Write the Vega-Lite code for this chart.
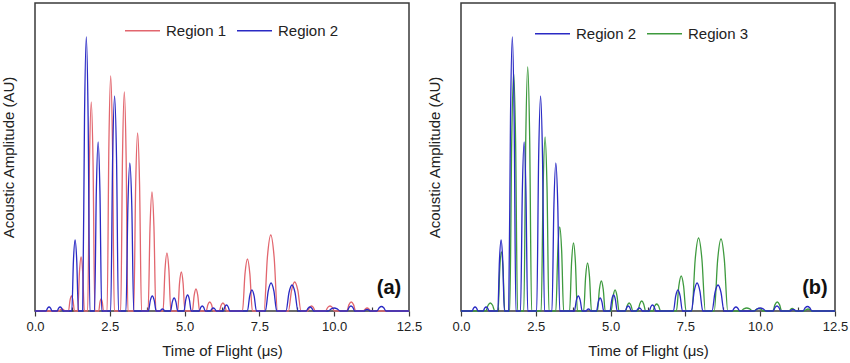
{
  "$schema": "https://vega.github.io/schema/vega-lite/v6.json",
  "padding": {"left": 0, "top": 2, "right": 0, "bottom": 0},
  "spacing": 3,
  "config": {
    "font": "Liberation Sans",
    "view": {"stroke": "#3a3a3a", "strokeWidth": 1.5},
    "axis": {"grid": false, "domain": false, "labelColor": "#222", "titleColor": "#222", "labelFont": "Liberation Sans", "titleFont": "Liberation Sans"}
  },
  "datasets": {
    "r1": [
      {"t":0,"a":0},
      {"t":0.8,"a":0},{"t":0.85,"a":1.4},{"t":0.9,"a":2},{"t":0.95,"a":1.4},{"t":1.0,"a":0},
      {"t":1.12,"a":0},{"t":1.17,"a":10.7},{"t":1.22,"a":15},{"t":1.27,"a":10.7},{"t":1.32,"a":0},
      {"t":1.43,"a":0},{"t":1.485,"a":38.3},{"t":1.54,"a":54},{"t":1.595,"a":38.3},{"t":1.65,"a":0},
      {"t":1.76,"a":0},{"t":1.82,"a":148.4},{"t":1.88,"a":209},{"t":1.94,"a":148.4},{"t":2.0,"a":0},
      {"t":2.13,"a":0},{"t":2.17,"a":8.5},{"t":2.21,"a":12},{"t":2.25,"a":8.5},{"t":2.29,"a":0},
      {"t":2.41,"a":0},{"t":2.47,"a":166.9},{"t":2.53,"a":235},{"t":2.59,"a":166.9},{"t":2.65,"a":0},
      {"t":2.865,"a":0},{"t":2.925,"a":155.5},{"t":2.985,"a":219},{"t":3.045,"a":155.5},{"t":3.105,"a":0},
      {"t":3.3,"a":0},{"t":3.365,"a":126.4},{"t":3.43,"a":178},{"t":3.495,"a":126.4},{"t":3.56,"a":0},
      {"t":3.78,"a":0},{"t":3.845,"a":84.5},{"t":3.91,"a":119},{"t":3.975,"a":84.5},{"t":4.04,"a":0},
      {"t":4.28,"a":0},{"t":4.345,"a":41.2},{"t":4.41,"a":58},{"t":4.475,"a":41.2},{"t":4.54,"a":0},
      {"t":4.77,"a":0},{"t":4.83,"a":27.7},{"t":4.89,"a":39},{"t":4.95,"a":27.7},{"t":5.01,"a":0},
      {"t":5.26,"a":0},{"t":5.32,"a":15.6},{"t":5.38,"a":22},{"t":5.44,"a":15.6},{"t":5.5,"a":0},
      {"t":5.72,"a":0},{"t":5.78,"a":6.4},{"t":5.84,"a":9},{"t":5.9,"a":6.4},{"t":5.96,"a":0},
      {"t":6.16,"a":0},{"t":6.22,"a":5.7},{"t":6.28,"a":8},{"t":6.34,"a":5.7},{"t":6.4,"a":0},
      {"t":6.935,"a":0},{"t":7.018,"a":36.9},{"t":7.1,"a":52},{"t":7.182,"a":36.9},{"t":7.265,"a":0},
      {"t":7.655,"a":0},{"t":7.768,"a":54},{"t":7.88,"a":76},{"t":7.992,"a":54},{"t":8.105,"a":0},
      {"t":8.47,"a":0},{"t":8.575,"a":20.6},{"t":8.68,"a":29},{"t":8.785,"a":20.6},{"t":8.89,"a":0},
      {"t":9.115,"a":0},{"t":9.178,"a":3.6},{"t":9.24,"a":5},{"t":9.302,"a":3.6},{"t":9.365,"a":0},
      {"t":9.71,"a":0},{"t":9.785,"a":3.6},{"t":9.86,"a":5},{"t":9.935,"a":3.6},{"t":10.01,"a":0},
      {"t":10.42,"a":0},{"t":10.495,"a":6.4},{"t":10.57,"a":9},{"t":10.645,"a":6.4},{"t":10.72,"a":0},
      {"t":10.975,"a":0},{"t":11.038,"a":2.1},{"t":11.1,"a":3},{"t":11.162,"a":2.1},{"t":11.225,"a":0},
      {"t":12.5,"a":0}
    ],
    "r2": [
      {"t":0,"a":0},
      {"t":0.37,"a":0},{"t":0.42,"a":2.8},{"t":0.47,"a":4},{"t":0.52,"a":2.8},{"t":0.57,"a":0},
      {"t":0.74,"a":0},{"t":0.79,"a":2.8},{"t":0.84,"a":4},{"t":0.89,"a":2.8},{"t":0.94,"a":0},
      {"t":1.23,"a":0},{"t":1.285,"a":50.4},{"t":1.34,"a":71},{"t":1.395,"a":50.4},{"t":1.45,"a":0},
      {"t":1.595,"a":0},{"t":1.655,"a":194.5},{"t":1.715,"a":274},{"t":1.775,"a":194.5},{"t":1.835,"a":0},
      {"t":1.99,"a":0},{"t":2.05,"a":120},{"t":2.11,"a":169},{"t":2.17,"a":120},{"t":2.23,"a":0},
      {"t":2.53,"a":0},{"t":2.595,"a":152.7},{"t":2.66,"a":215},{"t":2.725,"a":152.7},{"t":2.79,"a":0},
      {"t":3.04,"a":0},{"t":3.105,"a":105.1},{"t":3.17,"a":148},{"t":3.235,"a":105.1},{"t":3.3,"a":0},
      {"t":3.79,"a":0},{"t":3.855,"a":10.7},{"t":3.92,"a":15},{"t":3.985,"a":10.7},{"t":4.05,"a":0},
      {"t":4.185,"a":0},{"t":4.222,"a":1.4},{"t":4.26,"a":2},{"t":4.298,"a":1.4},{"t":4.335,"a":0},
      {"t":4.53,"a":0},{"t":4.59,"a":9.2},{"t":4.65,"a":13},{"t":4.71,"a":9.2},{"t":4.77,"a":0},
      {"t":4.98,"a":0},{"t":5.04,"a":11.4},{"t":5.1,"a":16},{"t":5.16,"a":11.4},{"t":5.22,"a":0},
      {"t":5.49,"a":0},{"t":5.54,"a":3.6},{"t":5.59,"a":5},{"t":5.64,"a":3.6},{"t":5.69,"a":0},
      {"t":5.86,"a":0},{"t":5.91,"a":2.1},{"t":5.96,"a":3},{"t":6.01,"a":2.1},{"t":6.06,"a":0},
      {"t":6.29,"a":0},{"t":6.345,"a":4.3},{"t":6.4,"a":6},{"t":6.455,"a":4.3},{"t":6.51,"a":0},
      {"t":7.1,"a":0},{"t":7.175,"a":14.9},{"t":7.25,"a":21},{"t":7.325,"a":14.9},{"t":7.4,"a":0},
      {"t":7.7,"a":0},{"t":7.795,"a":19.9},{"t":7.89,"a":28},{"t":7.985,"a":19.9},{"t":8.08,"a":0},
      {"t":8.39,"a":0},{"t":8.49,"a":18.5},{"t":8.59,"a":26},{"t":8.69,"a":18.5},{"t":8.79,"a":0},
      {"t":9.065,"a":0},{"t":9.128,"a":2.8},{"t":9.19,"a":4},{"t":9.252,"a":2.8},{"t":9.315,"a":0},
      {"t":9.8,"a":0},{"t":9.9,"a":2.1},{"t":10.0,"a":3},{"t":10.1,"a":2.1},{"t":10.2,"a":0},
      {"t":10.435,"a":0},{"t":10.498,"a":3.6},{"t":10.56,"a":5},{"t":10.622,"a":3.6},{"t":10.685,"a":0},
      {"t":11.0,"a":0},{"t":11.05,"a":1.1},{"t":11.1,"a":1.5},{"t":11.15,"a":1.1},{"t":11.2,"a":0},
      {"t":11.43,"a":0},{"t":11.505,"a":3.2},{"t":11.58,"a":4.5},{"t":11.655,"a":3.2},{"t":11.73,"a":0},
      {"t":12.5,"a":0}
    ],
    "r3": [
      {"t":0,"a":0},
      {"t":0.83,"a":0},{"t":0.905,"a":5.7},{"t":0.98,"a":8},{"t":1.055,"a":5.7},{"t":1.13,"a":0},
      {"t":1.24,"a":0},{"t":1.295,"a":41.9},{"t":1.35,"a":59},{"t":1.405,"a":41.9},{"t":1.46,"a":0},
      {"t":1.63,"a":0},{"t":1.695,"a":169},{"t":1.76,"a":238},{"t":1.825,"a":169},{"t":1.89,"a":0},
      {"t":2.1,"a":0},{"t":2.165,"a":173.2},{"t":2.23,"a":244},{"t":2.295,"a":173.2},{"t":2.36,"a":0},
      {"t":2.68,"a":0},{"t":2.745,"a":123.5},{"t":2.81,"a":174},{"t":2.875,"a":123.5},{"t":2.94,"a":0},
      {"t":3.17,"a":0},{"t":3.235,"a":59.6},{"t":3.3,"a":84},{"t":3.365,"a":59.6},{"t":3.43,"a":0},
      {"t":3.63,"a":0},{"t":3.695,"a":48.3},{"t":3.76,"a":68},{"t":3.825,"a":48.3},{"t":3.89,"a":0},
      {"t":4.1,"a":0},{"t":4.165,"a":34.1},{"t":4.23,"a":48},{"t":4.295,"a":34.1},{"t":4.36,"a":0},
      {"t":4.56,"a":0},{"t":4.625,"a":21.3},{"t":4.69,"a":30},{"t":4.755,"a":21.3},{"t":4.82,"a":0},
      {"t":5.02,"a":0},{"t":5.085,"a":14.9},{"t":5.15,"a":21},{"t":5.215,"a":14.9},{"t":5.28,"a":0},
      {"t":5.5,"a":0},{"t":5.56,"a":5.7},{"t":5.62,"a":8},{"t":5.68,"a":5.7},{"t":5.74,"a":0},
      {"t":5.91,"a":0},{"t":5.975,"a":7.1},{"t":6.04,"a":10},{"t":6.105,"a":7.1},{"t":6.17,"a":0},
      {"t":6.41,"a":0},{"t":6.475,"a":5},{"t":6.54,"a":7},{"t":6.605,"a":5},{"t":6.67,"a":0},
      {"t":7.2,"a":0},{"t":7.28,"a":24.9},{"t":7.36,"a":35},{"t":7.44,"a":24.9},{"t":7.52,"a":0},
      {"t":7.715,"a":0},{"t":7.828,"a":51.8},{"t":7.94,"a":73},{"t":8.052,"a":51.8},{"t":8.165,"a":0},
      {"t":8.465,"a":0},{"t":8.578,"a":51.1},{"t":8.69,"a":72},{"t":8.802,"a":51.1},{"t":8.915,"a":0},
      {"t":9.35,"a":0},{"t":9.45,"a":2.1},{"t":9.55,"a":3},{"t":9.65,"a":2.1},{"t":9.75,"a":0},
      {"t":9.8,"a":0},{"t":9.875,"a":1.8},{"t":9.95,"a":2.5},{"t":10.025,"a":1.8},{"t":10.1,"a":0},
      {"t":10.42,"a":0},{"t":10.495,"a":6.4},{"t":10.57,"a":9},{"t":10.645,"a":6.4},{"t":10.72,"a":0},
      {"t":10.97,"a":0},{"t":11.02,"a":1.8},{"t":11.07,"a":2.5},{"t":11.12,"a":1.8},{"t":11.17,"a":0},
      {"t":11.475,"a":0},{"t":11.538,"a":1.4},{"t":11.6,"a":2},{"t":11.662,"a":1.4},{"t":11.725,"a":0},
      {"t":12.5,"a":0}
    ]
  },
  "hconcat": [
    {
      "width": 374,
      "height": 308,
      "encoding": {
        "x": {
          "field": "t", "type": "quantitative",
          "scale": {"domain": [0, 12.5], "nice": false, "zero": false},
          "axis": {
            "title": "Time of Flight (μs)",
            "values": [0, 1.25, 2.5, 3.75, 5, 6.25, 7.5, 8.75, 10, 11.25, 12.5],
            "format": ".1f",
            "labelExpr": "datum.value % 2.5 === 0 ? datum.label : ''",
            "tickSize": {"condition": {"test": "datum.value % 2.5 !== 0", "value": -4}, "value": 5},
            "tickColor": "#3a3a3a", "tickWidth": 1.2,
            "labelFontSize": 13, "labelPadding": 4, "labelFlush": false,
            "titleFontSize": 15, "titleFontWeight": "normal", "titlePadding": 10
          }
        },
        "y": {
          "field": "a", "type": "quantitative",
          "scale": {"domain": [0, 308], "nice": false},
          "axis": {"title": "Acoustic Amplitude (AU)", "labels": false, "ticks": false, "titleFontSize": 15, "titleFontWeight": "normal", "titlePadding": 19}
        }
      },
      "layer": [
        {
          "data": {"name": "r1"},
          "mark": {"type": "line", "interpolate": "monotone", "strokeWidth": 1.3},
          "encoding": {
            "color": {
              "datum": "Region 1", "type": "nominal",
              "scale": {"domain": ["Region 1", "Region 2"], "range": ["#E2666E", "#2A2AC4"]},
              "legend": {"title": null, "orient": "none", "legendX": 89, "legendY": 9, "direction": "horizontal", "symbolType": "stroke", "symbolSize": 1225, "symbolStrokeWidth": 1.5, "labelFontSize": 15, "labelColor": "#222", "labelOffset": 5, "columnPadding": 7}
            }
          }
        },
        {
          "data": {"name": "r2"},
          "mark": {"type": "line", "interpolate": "monotone", "strokeWidth": 1.3},
          "encoding": {"color": {"datum": "Region 2", "type": "nominal"}}
        },
        {
          "data": {"values": [{"t": 11.83, "a": 23, "l": "(a)"}]},
          "mark": {"type": "text", "fontSize": 20, "fontWeight": "bold", "color": "#111", "align": "center", "baseline": "middle"},
          "encoding": {"text": {"field": "l"}}
        }
      ]
    },
    {
      "width": 374,
      "height": 308,
      "encoding": {
        "x": {
          "field": "t", "type": "quantitative",
          "scale": {"domain": [0, 12.5], "nice": false, "zero": false},
          "axis": {
            "title": "Time of Flight (μs)",
            "values": [0, 1.25, 2.5, 3.75, 5, 6.25, 7.5, 8.75, 10, 11.25, 12.5],
            "format": ".1f",
            "labelExpr": "datum.value % 2.5 === 0 ? datum.label : ''",
            "tickSize": {"condition": {"test": "datum.value % 2.5 !== 0", "value": -4}, "value": 5},
            "tickColor": "#3a3a3a", "tickWidth": 1.2,
            "labelFontSize": 13, "labelPadding": 4, "labelFlush": false,
            "titleFontSize": 15, "titleFontWeight": "normal", "titlePadding": 10
          }
        },
        "y": {
          "field": "a", "type": "quantitative",
          "scale": {"domain": [0, 308], "nice": false},
          "axis": {"title": "Acoustic Amplitude (AU)", "labels": false, "ticks": false, "titleFontSize": 15, "titleFontWeight": "normal", "titlePadding": 19}
        }
      },
      "layer": [
        {
          "data": {"name": "r3"},
          "mark": {"type": "line", "interpolate": "monotone", "strokeWidth": 1.3},
          "encoding": {
            "color": {
              "datum": "Region 3", "type": "nominal",
              "scale": {"domain": ["Region 2", "Region 3"], "range": ["#2A2AC4", "#3E9A3E"]},
              "legend": {"title": null, "orient": "none", "legendX": 73, "legendY": 12, "direction": "horizontal", "symbolType": "stroke", "symbolSize": 1225, "symbolStrokeWidth": 1.5, "labelFontSize": 15, "labelColor": "#222", "labelOffset": 5, "columnPadding": 7}
            }
          }
        },
        {
          "data": {"name": "r2"},
          "mark": {"type": "line", "interpolate": "monotone", "strokeWidth": 1.3},
          "encoding": {"color": {"datum": "Region 2", "type": "nominal"}}
        },
        {
          "data": {"values": [{"t": 11.83, "a": 23, "l": "(b)"}]},
          "mark": {"type": "text", "fontSize": 20, "fontWeight": "bold", "color": "#111", "align": "center", "baseline": "middle"},
          "encoding": {"text": {"field": "l"}}
        }
      ]
    }
  ],
  "resolve": {"scale": {"color": "independent"}, "legend": {"color": "independent"}}
}
